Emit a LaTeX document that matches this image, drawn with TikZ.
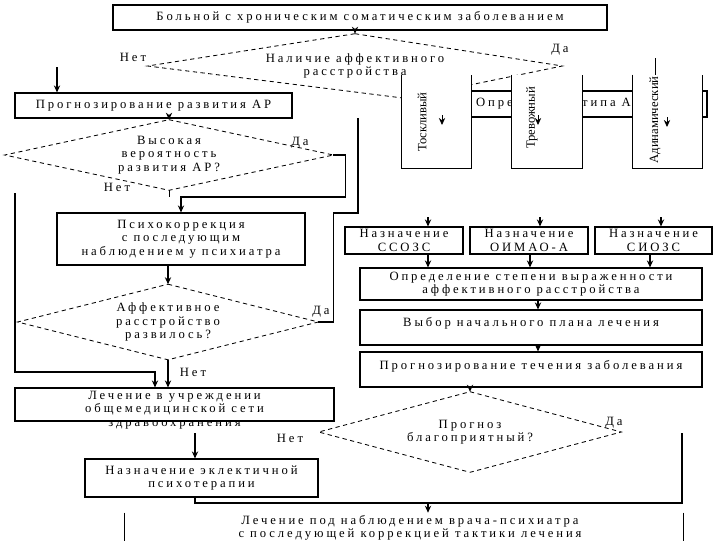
\documentclass[tikz,border=0pt]{standalone}
\usepackage{fontspec}
\setmainfont{Liberation Serif}[LetterSpace=23]
\newfontfamily\plainfont{Liberation Serif}
\usepackage{tikz}
\usetikzlibrary{positioning,shapes.geometric,arrows.meta,calc}

\begin{document}
\begin{tikzpicture}[
    x=0.025cm, y=-0.025cm,
    >={Stealth[length=5pt,width=4.5pt]},
    font=\fontsize{9}{9.5}\selectfont,
    box/.style={
        draw,
        line width=0.8pt,
        align=center,
        inner sep=0pt
    },
    dec/.style={
        rectangle,
        align=center,
        inner sep=0pt
    },
    dsh/.style={dash pattern=on 3pt off 2.5pt, line width=0.6pt},
    vbox/.style={fill=white, inner sep=0pt},
    vlab/.style={rotate=90, inner sep=0pt, font=\plainfont\fontsize{9}{9}\selectfont},
    lab/.style={inner sep=0pt, align=center},
    arr/.style={->, line width=0.8pt}
]
\useasboundingbox (0,0) rectangle (720,540);

% top
\node[box, line width=1.2pt, minimum width=12.35cm, minimum height=0.625cm] (patient) at (360,17.5)
{Больной с хроническим соматическим заболеванием};

\node[dec, minimum width=10.35cm, minimum height=1.6cm] (d1) at (355,66)
{Наличие аффективного\\расстройства};
\draw[dsh] (d1.north) -- (d1.east) -- ([xshift=1.25cm]d1.south) -- (d1.west) -- cycle;

\draw[arr] (d1.north |- patient.south) -- (d1.north);
\node[lab] (no1) at (133,57) {Нет};
\node[lab] (yes1) at (560,50) {Да};

% type of disorder
\node[box, minimum width=7.425cm, minimum height=0.65cm] (typ) at (558.5,104)
{Определение типа АР};

\node[vbox, minimum width=1.725cm, minimum height=2.325cm] (tosk) at (436.5,121.5) {};
\draw[line width=0.8pt] (tosk.north west) -- (tosk.south west) -- (tosk.south east) -- (tosk.north east);
\node[vlab] (tosk-t) at (422,122) {Тоскливый};

\node[vbox, minimum width=1.75cm, minimum height=2.325cm] (trev) at (547,121.5) {};
\draw[line width=0.8pt] (trev.north west) -- (trev.south west) -- (trev.south east) -- (trev.north east);
\node[vlab] (trev-t) at (532,118) {Тревожный};

\node[vbox, minimum width=1.725cm, minimum height=2.325cm] (adin) at (667.5,121.5) {};
\draw[line width=0.8pt] (adin.north west) -- (adin.south west) -- (adin.south east) -- (adin.north east);
\node[vlab] (adin-t) at (655,120) {Адинамический};

\coordinate (tosk-a) at (442,115);
\coordinate (trev-a) at (538,115);
\coordinate (adin-a) at (667,117);
\draw[arr, line width=0.6pt] (tosk-a) -- ++(0,10);
\draw[arr, line width=0.6pt] (trev-a) -- ++(0,10);
\draw[arr, line width=0.6pt] (adin-a) -- ++(0,10);
\coordinate (adin-in) at (655,58);
\draw[line width=0.6pt] (adin-in) -- (adin-in |- adin.north);

% left column
\node[box, minimum width=6.925cm, minimum height=0.625cm] (prog) at (153.5,105.5)
{Прогнозирование развития АР};
\coordinate (noin) at (57,67);
\draw[arr, line width=1.1pt] (noin) -- (noin |- prog.north);

\node[dec, minimum width=8.2cm, minimum height=1.75cm] (d2) at (169,155)
{Высокая\\вероятность\\развития АР?};
\draw[dsh] (d2.north) -- (d2.east) -- (d2.south) -- (d2.west) -- cycle;
\draw[arr] (d2.north |- prog.south) -- (d2.north);
\node[lab] (yes2) at (300,143) {Да};
\node[lab] (no2) at (117,187) {Нет};

\node[box, minimum width=6.2cm, minimum height=1.3cm] (psy) at (181,239)
{Психокоррекция\\с последующим\\наблюдением у психиатра};
\draw[arr] (d2.east) -- ++(12,0) -- ++(0,42) -| (psy.north);
\draw (d2.south) -- ++(0,7);

\node[dec, minimum width=7.5cm, minimum height=1.875cm] (d3) at (168,322)
{Аффективное\\расстройство\\развилось?};
\draw[dsh] (d3.north) -- (d3.east) -- (d3.south) -- (d3.west) -- cycle;
\draw[arr] (d3.north |- psy.south) -- (d3.north);
\node[lab] (yes3) at (321,312) {Да};
\node[lab] (no3) at (193,372) {Нет};

\coordinate (yj) at (358,213);
\draw[line width=0.8pt] (d3.east) -- ++(15,0) |- (yj) -- ++(0,-95);

\node[box, minimum width=7.975cm, minimum height=0.825cm] (lech) at (174.5,404.5) {};
\node[lab] (lech-t) at (174.5,410)
{Лечение в учреждении\\общемедицинской сети\\здравоохранения};
\coordinate (noleft) at (15,193);
\coordinate (lj) at (155,372);
\draw[arr] (noleft) |- (lj) -- (lj |- lech.north);
\draw[arr] (d3.south) -- (d3.south |- lech.north);

\node[box, minimum width=5.825cm, minimum height=0.95cm] (ekl) at (201.5,478)
{Назначение эклектичной\\психотерапии};
\coordinate (ea) at (195,433);
\draw[arr, line width=1.1pt] (ea) -- (ea |- ekl.north);

% right column
\node[box, minimum width=2.95cm, minimum height=0.675cm] (n1) at (404,240.5)
{Назначение\\ССОЗС};
\node[box, minimum width=2.95cm, minimum height=0.675cm] (n2) at (529,240.5)
{Назначение\\ОИМАО-А};
\node[box, minimum width=2.925cm, minimum height=0.675cm] (n3) at (653.5,240.5)
{Назначение\\СИОЗС};

\coordinate (n1-in) at (428,217);
\coordinate (n2-in) at (540,217);
\coordinate (n3-in) at (661,217);
\draw[arr] (n1-in) -- (n1-in |- n1.north);
\draw[arr] (n2-in) -- (n2-in |- n2.north);
\draw[arr] (n3-in) -- (n3-in |- n3.north);

\node[box, minimum width=8.55cm, minimum height=0.8cm] (step) at (531,284)
{Определение степени выраженности\\аффективного расстройства};

\coordinate (n1-out) at (428,0);
\coordinate (n2-out) at (530,0);
\coordinate (n3-out) at (650,0);
\draw[arr] (n1-out |- n1.south) -- (n1-out |- step.north);
\draw[arr] (n2-out |- n2.south) -- (n2-out |- step.north);
\draw[arr] (n3-out |- n3.south) -- (n3-out |- step.north);

\node[box, minimum width=8.55cm, minimum height=0.875cm, text depth=8pt] (plan) at (531,327.5)
{Выбор начального плана лечения};
\node[box, minimum width=8.55cm, minimum height=0.875cm, text depth=7pt] (fore) at (531,369.5)
{Прогнозирование течения заболевания};

\coordinate (mid) at (538,0);
\draw[arr] (mid |- step.south) -- (mid |- plan.north);
\draw[arr] (mid |- plan.south) -- (mid |- fore.north);

\node[dec, minimum width=7.55cm, minimum height=2cm] (d4) at (470,432)
{Прогноз\\благоприятный?};
\draw[dsh] (d4.north) -- (d4.east) -- (d4.south) -- (d4.west) -- cycle;
\draw[arr] (d4.north |- fore.south) -- (d4.north);
\node[lab] (yes4) at (614,423) {Да};
\node[lab] (no4) at (290,438) {Нет};

% bottom
\node[inner sep=0pt, minimum width=13.95cm, minimum height=1.175cm] (final) at (404,536.5) {};
\draw[line width=0.8pt] (final.north west) -- (final.south west);
\draw[line width=0.8pt] (final.north east) -- (final.south east);
\node[lab] (final-t) at (410,528)
{Лечение под наблюдением врача-психиатра\\с последующей коррекцией тактики лечения};

\coordinate (jn) at (428,503);
\coordinate (yesr) at (682,433);
\draw[line width=0.8pt] (ea |- ekl.south) |- (jn) -| (yesr);
\draw[arr] (jn) -- (jn |- final.north);

\end{tikzpicture}
\end{document}
